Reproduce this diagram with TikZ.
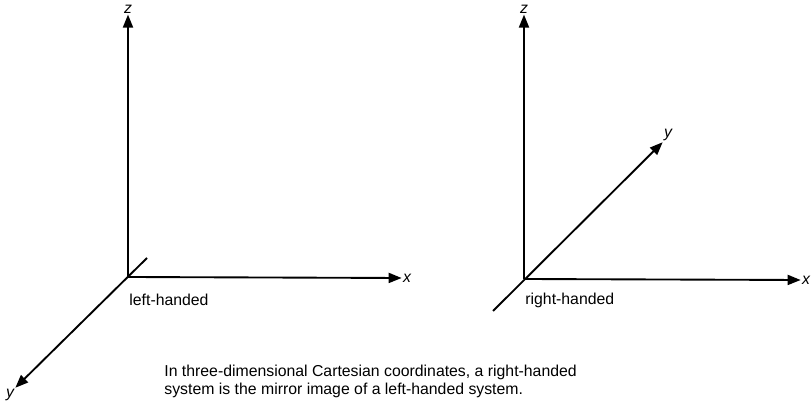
\documentclass[tikz,border=0pt]{standalone}
\usepackage{fontspec}
\setmainfont{Liberation Sans}
\usetikzlibrary{arrows.meta}
\tikzset{
  axis/.style={line width=1.6pt, -{Triangle[length=0.39cm, width=0.3cm]}},
  stub/.style={line width=1.6pt},
  axlabel/.style={font=\fontsize{13.5}{15}\selectfont\itshape, inner sep=1pt},
  handtext/.style={font=\fontsize{13.5}{15}\selectfont, anchor=west, inner sep=1pt}
}
\begin{document}
\begin{tikzpicture}[x=0.03cm, y=-0.03cm]
    \useasboundingbox (0,0) rectangle (812,405);
    % Left-handed system
    \coordinate (lo) at (128,277);
    \coordinate (lext) at (147,258);
    \node[axlabel] (lz) at (128,9) {z};
    \node[axlabel] (lx) at (407,278) {x};
    \node[axlabel] (ly) at (10,395) {y};
    \draw[axis] (lo) -- (lz.south);
    \draw[axis] (lo) -- (lx.west);
    \draw[axis] (lext) -- (ly.north east);
    \node[handtext] (lname) at (128,300) {left-handed};
    
    % Right-handed system
    \coordinate (ro) at (524,279);
    \coordinate (rext) at (493,311);
    \node[axlabel] (rz) at (524,9) {z};
    \node[axlabel] (rx) at (806,280) {x};
    \node[axlabel] (ry) at (668,135) {y};
    \draw[axis] (ro) -- (rz.south);
    \draw[axis] (ro) -- (rx.west);
    \draw[axis] (rext) -- (ry.south west);
    \node[handtext] (rname) at (524,300) {right-handed};
    
    % Caption
    \node[handtext, anchor=north west, align=left] (caption) at (163,364)
      {In three-dimensional Cartesian coordinates, a right-handed\\system is the mirror image of a left-handed system.};
\end{tikzpicture}
\end{document}
